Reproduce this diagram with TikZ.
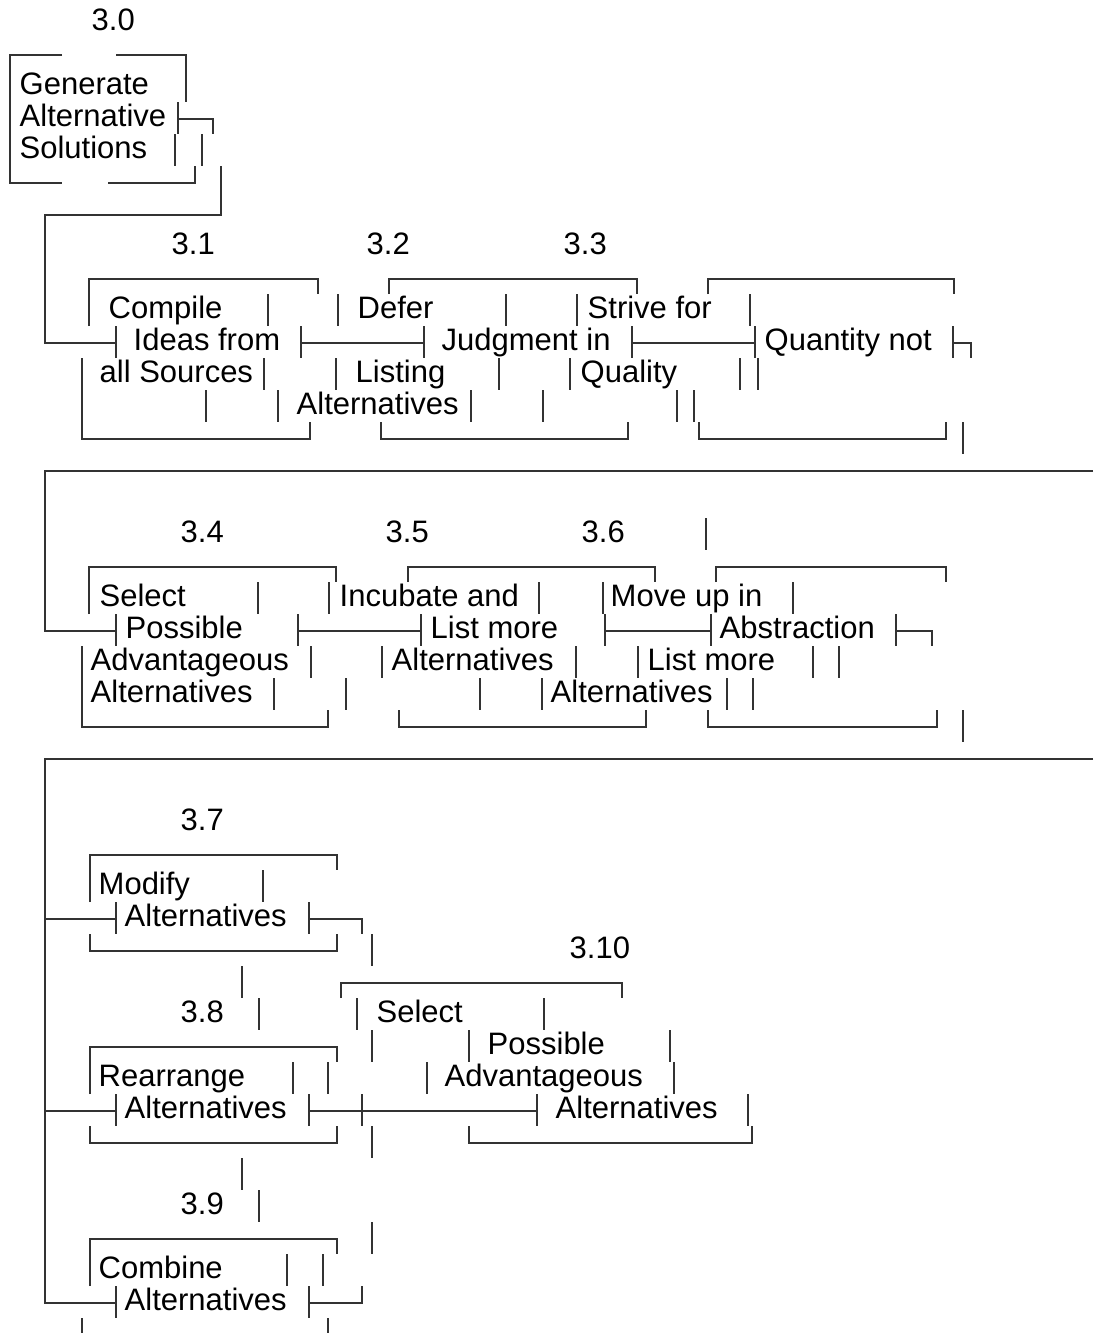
\documentclass[tikz,border=0pt]{standalone}
\usepackage{fontspec}
\setmainfont{Liberation Sans}

\begin{document}
\begin{tikzpicture}[x=1pt,y=-32pt]
\tikzstyle{ln}=[line width=1.5pt,black!80]
\tikzstyle{lbl}=[anchor=base west,inner sep=0pt,xshift=-1.5pt,font=\fontsize{31}{32}\selectfont]
\useasboundingbox (0,-0.9375) rectangle (1093,40.71875);

% 3.0
\node[lbl] (lab30) at (93,0) {3.0};
\node[lbl] (a30) at (21,2) {Generate};
\node[lbl] (b30) at (21,3) {Alternative};
\node[lbl] (c30) at (21,4) {Solutions};
\draw[ln] (62,0.78) -- (10,0.78) -- (10,4.78) -- (62,4.78);
\draw[ln] (116,0.78) -- (186,0.78) -- (186,2.25);
\draw[ln] (108,4.78) -- (195,4.78) -- (195,4.25);
\draw[ln] (178,2.25) -- (178,3.25) (178,2.78) -- (213,2.78) -- (213,3.25);
\draw[ln] (175,3.25) -- (175,4.25) (202,3.25) -- (202,4.25);
\draw[ln] (221,4.25) -- (221,5.78) -- (45,5.78) -- (45,9.78) -- (116,9.78);
\draw[ln] (116,9.25) -- (116,10.25);

% 3.1 3.2 3.3
\node[lbl] (lab31) at (173,7) {3.1};
\node[lbl] (lab32) at (368,7) {3.2};
\node[lbl] (lab33) at (565,7) {3.3};
\node[lbl] (a31) at (110,9) {Compile};
\node[lbl] (b31) at (135,10) {Ideas from};
\node[lbl] (c31) at (101,11) {all Sources};
\node[lbl] (a32) at (359,9) {Defer};
\node[lbl] (b32) at (443,10) {Judgment in};
\node[lbl] (c32) at (357,11) {Listing};
\node[lbl] (d32) at (298,12) {Alternatives};
\node[lbl] (a33) at (589,9) {Strive for};
\node[lbl] (b33) at (766,10) {Quantity not};
\node[lbl] (c33) at (582,11) {Quality};
\draw[ln] (89,9.25) -- (89,7.78) -- (318,7.78) -- (318,8.25);
\draw[ln] (389,8.25) -- (389,7.78) -- (637,7.78) -- (637,8.25);
\draw[ln] (708,8.25) -- (708,7.78) -- (954,7.78) -- (954,8.25);
\draw[ln] (268,8.25) -- ++(0,1) (338,8.25) -- ++(0,1) (506,8.25) -- ++(0,1)
  (577,8.25) -- ++(0,1) (750,8.25) -- ++(0,1);
\draw[ln] (301,9.25) -- ++(0,1) (301,9.78) -- (424,9.78) (424,9.25) -- ++(0,1);
\draw[ln] (632,9.25) -- ++(0,1) (632,9.78) -- (755,9.78) (755,9.25) -- ++(0,1);
\draw[ln] (953,9.25) -- ++(0,1) (953,9.78) -- (971,9.78) -- (971,10.25);
\draw[ln] (82,10.25) -- (82,12.78) -- (310,12.78) -- (310,12.25);
\draw[ln] (264,10.25) -- ++(0,1) (336,10.25) -- ++(0,1) (499,10.25) -- ++(0,1)
  (570,10.25) -- ++(0,1) (740,10.25) -- ++(0,1) (758,10.25) -- ++(0,1);
\draw[ln] (206,11.25) -- ++(0,1) (278,11.25) -- ++(0,1) (471,11.25) -- ++(0,1)
  (543,11.25) -- ++(0,1) (677,11.25) -- ++(0,1) (694,11.25) -- ++(0,1);
\draw[ln] (381,12.25) -- (381,12.78) -- (628,12.78) -- (628,12.25);
\draw[ln] (699,12.25) -- (699,12.78) -- (946,12.78) -- (946,12.25);
\draw[ln] (963,12.25) -- ++(0,1);
\draw[ln] (1093,13.78) -- (45,13.78) -- (45,18.78) -- (116,18.78);
\draw[ln] (116,18.25) -- (116,19.25);

% 3.4 3.5 3.6
\node[lbl] (lab34) at (182,16) {3.4};
\node[lbl] (lab35) at (387,16) {3.5};
\node[lbl] (lab36) at (583,16) {3.6};
\node[lbl] (a34) at (101,18) {Select};
\node[lbl] (b34) at (127,19) {Possible};
\node[lbl] (c34) at (92,20) {Advantageous};
\node[lbl] (d34) at (92,21) {Alternatives};
\node[lbl] (a35) at (341,18) {Incubate and};
\node[lbl] (b35) at (432,19) {List more};
\node[lbl] (c35) at (393,20) {Alternatives};
\node[lbl] (a36) at (612,18) {Move up in};
\node[lbl] (b36) at (721,19) {Abstraction};
\node[lbl] (c36) at (649,20) {List more};
\node[lbl] (d36) at (552,21) {Alternatives};
\draw[ln] (706,15.25) -- ++(0,1);
\draw[ln] (89,18.25) -- (89,16.78) -- (336,16.78) -- (336,17.25);
\draw[ln] (408,17.25) -- (408,16.78) -- (655,16.78) -- (655,17.25);
\draw[ln] (716,17.25) -- (716,16.78) -- (946,16.78) -- (946,17.25);
\draw[ln] (258,17.25) -- ++(0,1) (329,17.25) -- ++(0,1) (539,17.25) -- ++(0,1)
  (603,17.25) -- ++(0,1) (793,17.25) -- ++(0,1);
\draw[ln] (298,18.25) -- ++(0,1) (298,18.78) -- (421,18.78) (421,18.25) -- ++(0,1);
\draw[ln] (605,18.25) -- ++(0,1) (605,18.78) -- (711,18.78) (711,18.25) -- ++(0,1);
\draw[ln] (896,18.25) -- ++(0,1) (896,18.78) -- (932,18.78) -- (932,19.25);
\draw[ln] (82,19.25) -- (82,21.78) -- (328,21.78) -- (328,21.25);
\draw[ln] (311,19.25) -- ++(0,1) (382,19.25) -- ++(0,1) (576,19.25) -- ++(0,1)
  (638,19.25) -- ++(0,1) (813,19.25) -- ++(0,1) (839,19.25) -- ++(0,1);
\draw[ln] (274,20.25) -- ++(0,1) (346,20.25) -- ++(0,1) (480,20.25) -- ++(0,1)
  (542,20.25) -- ++(0,1) (727,20.25) -- ++(0,1) (753,20.25) -- ++(0,1);
\draw[ln] (399,21.25) -- (399,21.78) -- (646,21.78) -- (646,21.25);
\draw[ln] (708,21.25) -- (708,21.78) -- (937,21.78) -- (937,21.25);
\draw[ln] (963,21.25) -- ++(0,1);
\draw[ln] (1093,22.78) -- (45,22.78) -- (45,39.78) -- (116,39.78);

% 3.7 3.8 3.9 3.10
\node[lbl] (lab37) at (182,25) {3.7};
\node[lbl] (a37) at (100,27) {Modify};
\node[lbl] (b37) at (126,28) {Alternatives};
\node[lbl] (lab38) at (182,31) {3.8};
\node[lbl] (a38) at (100,33) {Rearrange};
\node[lbl] (b38) at (126,34) {Alternatives};
\node[lbl] (lab39) at (182,37) {3.9};
\node[lbl] (a39) at (100,39) {Combine};
\node[lbl] (b39) at (126,40) {Alternatives};
\node[lbl] (lab310) at (571,29) {3.10};
\node[lbl] (a310) at (378,31) {Select};
\node[lbl] (b310) at (489,32) {Possible};
\node[lbl] (c310) at (446,33) {Advantageous};
\node[lbl] (d310) at (557,34) {Alternatives};
\draw[ln] (90,27.25) -- (90,25.78) -- (337,25.78) -- (337,26.25);
\draw[ln] (263,26.25) -- ++(0,1);
\draw[ln] (45,27.78) -- (116,27.78) (116,27.25) -- ++(0,1);
\draw[ln] (309,27.25) -- ++(0,1) (309,27.78) -- (362,27.78) -- (362,28.25);
\draw[ln] (90,28.25) -- (90,28.78) -- (337,28.78) -- (337,28.25);
\draw[ln] (372,28.25) -- ++(0,1);
\draw[ln] (242,29.25) -- ++(0,1);
\draw[ln] (341,30.25) -- (341,29.78) -- (622,29.78) -- (622,30.25);
\draw[ln] (259,30.25) -- ++(0,1) (357,30.25) -- ++(0,1) (544,30.25) -- ++(0,1);
\draw[ln] (90,33.25) -- (90,31.78) -- (337,31.78) -- (337,32.25);
\draw[ln] (372,31.25) -- ++(0,1) (469,31.25) -- ++(0,1) (670,31.25) -- ++(0,1);
\draw[ln] (293,32.25) -- ++(0,1) (328,32.25) -- ++(0,1) (427,32.25) -- ++(0,1)
  (674,32.25) -- ++(0,1);
\draw[ln] (45,33.78) -- (116,33.78) (116,33.25) -- ++(0,1);
\draw[ln] (309,33.25) -- ++(0,1) (309,33.78) -- (537,33.78) (362,33.25) -- ++(0,1)
  (537,33.25) -- ++(0,1);
\draw[ln] (748,33.25) -- ++(0,1);
\draw[ln] (90,34.25) -- (90,34.78) -- (337,34.78) -- (337,34.25);
\draw[ln] (372,34.25) -- ++(0,1);
\draw[ln] (469,34.25) -- (469,34.78) -- (752,34.78) -- (752,34.25);
\draw[ln] (242,35.25) -- ++(0,1);
\draw[ln] (259,36.25) -- ++(0,1);
\draw[ln] (90,39.25) -- (90,37.78) -- (337,37.78) -- (337,38.25);
\draw[ln] (372,37.25) -- ++(0,1);
\draw[ln] (287,38.25) -- ++(0,1) (323,38.25) -- ++(0,1);
\draw[ln] (116,39.25) -- ++(0,1);
\draw[ln] (309,39.25) -- ++(0,1) (309,39.78) -- (362,39.78) -- (362,39.25);
\draw[ln] (82,40.25) -- ++(0,1) (328,40.25) -- ++(0,1);
\end{tikzpicture}
\end{document}
